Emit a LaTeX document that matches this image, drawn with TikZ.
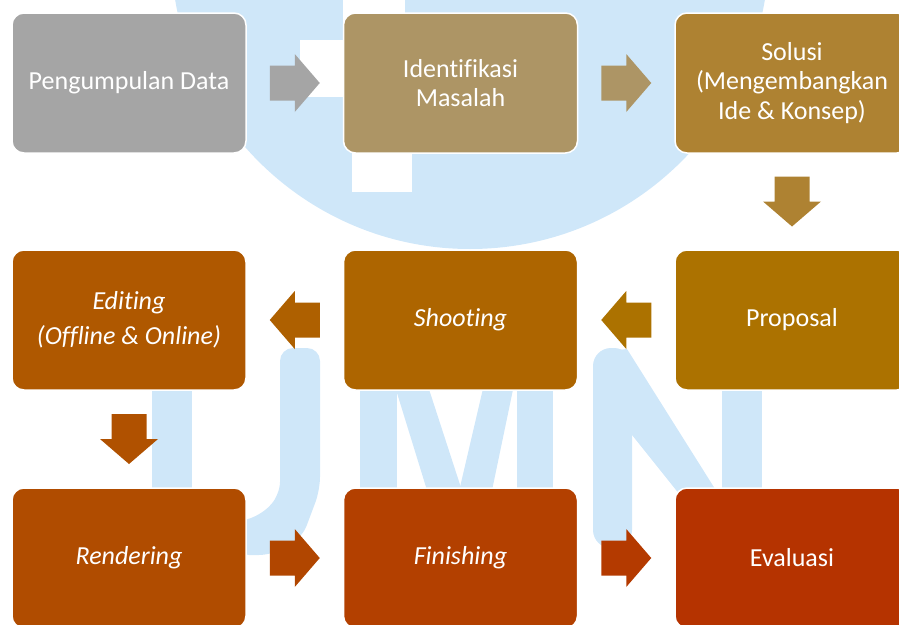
\documentclass[tikz,border=0pt]{standalone}
\usepackage{fontspec}
\setmainfont{Carlito}[Ligatures=NoCommon]
\usetikzlibrary{calc}

% stage colours, grey through to red-orange
\definecolor{cA}{RGB}{165,165,165}
\definecolor{cB}{RGB}{173,149,101}
\definecolor{cC}{RGB}{174,130,50}
\definecolor{cD}{RGB}{172,114,0}
\definecolor{cE}{RGB}{173,101,0}
\definecolor{cF}{RGB}{175,88,0}
\definecolor{cG}{RGB}{176,76,0}
\definecolor{cH}{RGB}{179,64,0}
\definecolor{cI}{RGB}{181,51,0}
\definecolor{wm}{RGB}{207,231,249}

% block arrow: colour, centre, direction angle
\newcommand\stagearrow[3]{%
  \fill[#1, shift={(#2)}, rotate=#3]
    (-25,-17.5) -- (0,-17.5) -- (0,-29) -- (25,0) -- (0,29) -- (0,17.5) -- (-25,17.5) -- cycle;}

\begin{document}
\begin{tikzpicture}[x=1pt,y=1pt,
  stage/.style={rectangle, rounded corners=12pt, minimum width=234pt, minimum height=140pt,
    draw=white, line width=1.5pt, text=white, align=center, inner sep=0pt,
    font=\fontsize{26}{29.5}\selectfont},
  emph/.style={font=\fontsize{26}{29.5}\selectfont\itshape}]
\useasboundingbox (0,0) rectangle (899,-624);
\clip (0,0) rectangle (899,-624);

% background emblem
\fill[wm] (470,50) circle (299);
\fill[white] (300,-40) rectangle (352,-97);
\fill[white] (343,0) rectangle (405,-100);
\fill[white] (352,-97) rectangle (412,-192);
% letter U
\fill[wm] (152,-380) rectangle (192,-500);
\fill[wm, rounded corners=13pt] (280,-470) -- (280,-348) -- (320,-348) -- (320,-490)
  -- (302,-538) -- (272,-555) -- (236,-555) -- (236,-522) -- (260,-516) -- (280,-495) -- cycle;
% letter M
\fill[wm] (360,-380) rectangle (397,-500);
\fill[wm] (393,-380) -- (426,-380) -- (465,-500) -- (430,-500) -- cycle;
\fill[wm] (485,-380) -- (515,-380) -- (490,-500) -- (457,-500) -- cycle;
\fill[wm] (517,-380) rectangle (553,-500);
% letter N
\fill[wm, rounded corners=18pt] (593,-548) -- (593,-348) -- (632,-348) -- (632,-548) -- cycle;
\fill[wm] (600,-352) -- (627,-349) -- (722,-500) -- (684,-500) -- (600,-395) -- cycle;
\fill[wm] (722,-380) rectangle (762,-500);

% stages
\node[stage, fill=cA] (s1) at (129,-83) {Pengumpulan Data};
\node[stage, fill=cB] (s2) at (460.5,-83) {Identifikasi\\Masalah};
\node[stage, fill=cC] (s3) at (792,-83) {Solusi\\(Mengembangkan\\Ide \& Konsep)};
\node[stage, fill=cD] (s4) at (792,-320) {Proposal};
\node[stage, fill=cE, emph] (s5) at (460.5,-320) {Shooting};
\node[stage, fill=cF, emph] (s6) at (129,-320) {Editing\\[6pt](Offline \& Online)};
\node[stage, fill=cG, emph] (s7) at (129,-558) {Rendering};
\node[stage, fill=cH, emph] (s8) at (460.5,-558) {Finishing};
\node[stage, fill=cI] (s9) at (792,-558) {Evaluasi};

% arrows between stages
\coordinate (a12) at ($(s1.east)!0.5!(s2.west)$);
\coordinate (a23) at ($(s2.east)!0.5!(s3.west)$);
\coordinate (a34) at ($(s3.south)!0.5!(s4.north)$);
\coordinate (a45) at ($(s4.west)!0.5!(s5.east)$);
\coordinate (a56) at ($(s5.west)!0.5!(s6.east)$);
\coordinate (a67) at ($(s6.south)!0.5!(s7.north)$);
\coordinate (a78) at ($(s7.east)!0.5!(s8.west)$);
\coordinate (a89) at ($(s8.east)!0.5!(s9.west)$);
\stagearrow{cA}{a12}{0}
\stagearrow{cB}{a23}{0}
\stagearrow{cC}{a34}{-90}
\stagearrow{cD}{a45}{180}
\stagearrow{cE!60!cF}{a56}{180}
\stagearrow{cF!40!cG}{a67}{-90}
\stagearrow{cG!50!cH}{a78}{0}
\stagearrow{cH!50!cI}{a89}{0}
\end{tikzpicture}
\end{document}
